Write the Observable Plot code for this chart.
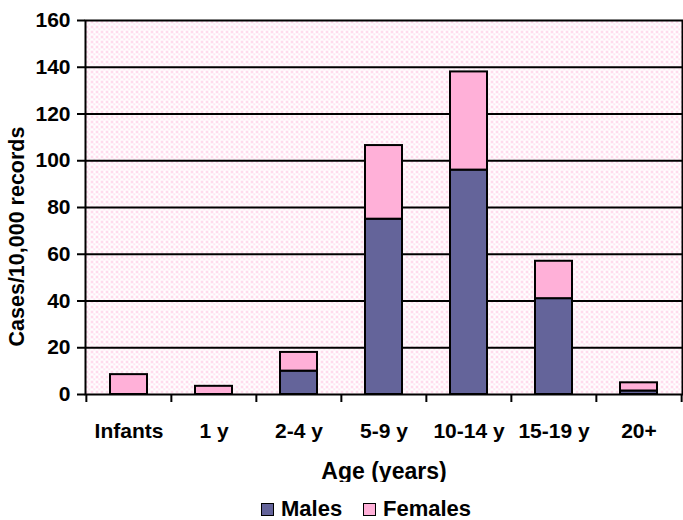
<!DOCTYPE html>
<html>
<head>
<meta charset="utf-8">
<script src="https://cdn.jsdelivr.net/npm/d3@7"></script>
<script src="https://cdn.jsdelivr.net/npm/@observablehq/plot@0.6"></script>
<style>
  body { margin: 0; background: #fff; width: 683px; height: 520px; overflow: hidden; }
  #chart svg { display: block; }
  #legend { position: relative; height: 38px; font-family: "Liberation Sans", Arial, sans-serif; font-weight: bold; font-size: 22px; line-height: 22px; color: #000; }
  .item { position: absolute; top: 16px; display: flex; align-items: center; }
  .sw { width: 11px; height: 11px; border: 1.5px solid #000; margin-right: 7px; }
</style>
</head>
<body>
<div id="chart"></div>
<div id="legend"></div>
<script>
const categories = ["Infants", "1 y", "2-4 y", "5-9 y", "10-14 y", "15-19 y", "20+"];
const males   = [0, 0, 10, 75, 96, 41, 1.5];
const females = [8.5, 3.5, 8, 31.5, 42, 16, 3.5];
const seriesNames = ["Males", "Females"];
const seriesColors = ["#64649a", "#ffb0d8"];
const yTicks = [0, 20, 40, 60, 80, 100, 120, 140, 160];
const gridTicks = [20, 40, 60, 80, 100, 120, 140];
const yTitle = "Cases/10,000 records";
const xTitle = "Age (years)";

const rows = [];
categories.forEach((c, i) => {
  rows.push({age: c, sex: "Males", value: males[i]});
  rows.push({age: c, sex: "Females", value: females[i]});
});

const W = 683, H = 482, mL = 85, mR = 1, mT = 20, mB = 88;
const step = (W - mL - mR) / categories.length;
const font = "Liberation Sans, Arial, sans-serif";

const plot = Plot.plot({
  width: W, height: H,
  marginLeft: mL, marginRight: mR, marginTop: mT, marginBottom: mB,
  style: {fontFamily: font, fontSize: "21px", fontWeight: "bold", color: "#000", background: "#fff"},
  x: {domain: categories, paddingInner: 0.565, paddingOuter: 0.2825, align: 0.5, label: null},
  y: {domain: [0, 160], label: null},
  color: {domain: seriesNames, range: seriesColors},
  marks: [
    Plot.frame({fill: "url(#dotpat)", stroke: "none"}),
    Plot.ruleY(gridTicks, {stroke: "#000", strokeWidth: 2}),
    Plot.barY(rows, {x: "age", y: "value", fill: "sex", stroke: "#000", strokeWidth: 2}),
    Plot.frame({stroke: "#000", strokeWidth: 2}),
    Plot.axisY(yTicks, {tickSize: 8, tickPadding: 7, stroke: "#000", strokeWidth: 2, fontSize: 21, fontWeight: "bold", label: null}),
    Plot.axisX({tickSize: 0, tickPadding: 29, fontSize: 21, fontWeight: "bold", label: null}),
    Plot.ruleX(categories, {x: d => d, y1: 0, y2: 0, dx: -step / 2, insetBottom: -8, stroke: "#000", strokeWidth: 2}),
    Plot.ruleX([categories[categories.length - 1]], {x: d => d, y1: 0, y2: 0, dx: step / 2, insetBottom: -8, stroke: "#000", strokeWidth: 2}),
    Plot.text([yTitle], {frameAnchor: "left", textAnchor: "middle", rotate: -90, dx: -68, dy: 29, fontSize: 21.5, fontWeight: "bold", fill: "#000"}),
    Plot.text([xTitle], {frameAnchor: "bottom", textAnchor: "middle", dy: 84, fontSize: 23, fontWeight: "bold", fill: "#000"})
  ]
});

// dotted pink pattern for plot background
const ns = "http://www.w3.org/2000/svg";
const defs = document.createElementNS(ns, "defs");
defs.innerHTML = `<pattern id="dotpat" width="5" height="5" patternUnits="userSpaceOnUse">
  <rect width="5" height="5" fill="#fff"/>
  <rect x="0.5" y="0.5" width="2" height="2" fill="#ffbfe0"/>
  <rect x="3" y="3" width="1.5" height="1.5" fill="#ffd0e8"/>
</pattern>`;
plot.insertBefore(defs, plot.firstChild);
document.getElementById("chart").appendChild(plot);

// legend
const legend = document.getElementById("legend");
const lefts = [261, 363];
seriesNames.forEach((name, i) => {
  const it = document.createElement("div");
  it.className = "item";
  it.style.left = lefts[i] + "px";
  const sw = document.createElement("div");
  sw.className = "sw";
  sw.style.background = seriesColors[i];
  const t = document.createElement("span");
  t.textContent = name;
  it.appendChild(sw); it.appendChild(t);
  legend.appendChild(it);
});
</script>
</body>
</html>
